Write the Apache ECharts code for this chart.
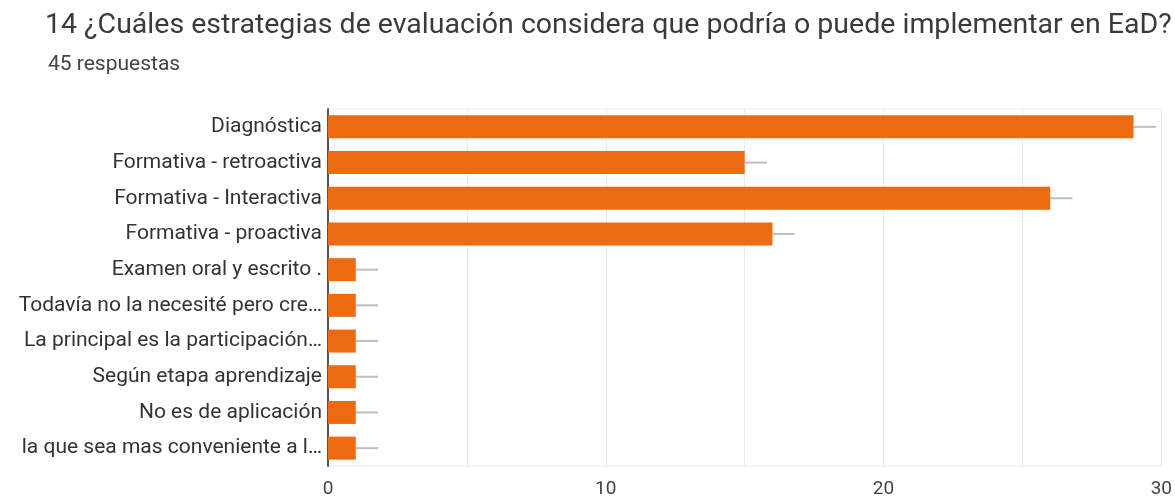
<!DOCTYPE html>
<html>
<head>
<meta charset="utf-8">
<script src="https://cdn.jsdelivr.net/npm/echarts@6/dist/echarts.min.js"></script>
<style>
  html, body { margin: 0; padding: 0; background: #fff; }
  #chart { width: 1175px; height: 499px; }
</style>
</head>
<body>
<div id="chart"></div>
<script>
// Survey answers: evaluation strategies
const categories = [
  'Diagnóstica',
  'Formativa - retroactiva',
  'Formativa - Interactiva',
  'Formativa - proactiva',
  'Examen oral y escrito .',
  'Todavía no la necesité pero cre…',
  'La principal es la participación…',
  'Según etapa aprendizaje',
  'No es de aplicación',
  'la que sea mas conveniente a l…'
];
const counts = [29, 15, 26, 16, 1, 1, 1, 1, 1, 1];
// right end of the grey whisker drawn after each bar
const whiskerEnds = [29.8, 15.8, 26.8, 16.8, 1.8, 1.8, 1.8, 1.8, 1.8, 1.8];
const xTicks = [0, 10, 20, 30];

const chart = echarts.init(document.getElementById('chart'));

chart.setOption({
  animation: false,
  title: [
    {
      text: '14 ¿Cuáles estrategias de evaluación considera que podría o puede implementar en EaD?',
      left: 40, top: 6,
      textStyle: { fontFamily: 'Roboto', fontSize: 28.5, fontWeight: 'normal', color: '#3a3a3a' }
    },
    {
      text: '45 respuestas',
      left: 43, top: 49,
      textStyle: { fontFamily: 'Roboto', fontSize: 21, fontWeight: 'normal', color: '#444' }
    }
  ],
  grid: {
    left: 328, right: 13, top: 109, bottom: 32,
    show: true, borderColor: '#ebebeb', borderWidth: 1
  },
  xAxis: {
    type: 'value', min: 0, max: 30, interval: 5,
    axisLine: { show: false },
    axisTick: { show: false },
    splitLine: { lineStyle: { color: '#ebebeb', width: 1 } },
    axisLabel: {
      fontFamily: 'Roboto', fontSize: 19, color: '#444', margin: 14,
      formatter: v => (xTicks.indexOf(v) >= 0 ? String(v) : '')
    }
  },
  yAxis: {
    type: 'category', data: categories, inverse: true,
    axisLine: { show: true, lineStyle: { color: '#555', width: 2 } },
    axisTick: { show: false },
    axisLabel: { fontFamily: 'Roboto', fontSize: 21, color: '#333', margin: 6 }
  },
  series: [
    {
      type: 'bar',
      data: counts,
      barWidth: 23,
      itemStyle: { color: '#ec6b12' },
      z: 3
    },
    {
      type: 'custom',
      data: counts.map((c, i) => [c, whiskerEnds[i], i]),
      encode: { x: [0, 1], y: 2 },
      z: 2,
      renderItem: (params, api) => {
        const a = api.coord([api.value(0), api.value(2)]);
        const b = api.coord([api.value(1), api.value(2)]);
        return {
          type: 'line',
          shape: { x1: a[0], y1: a[1], x2: b[0], y2: b[1] },
          style: { stroke: '#bdbdbd', lineWidth: 2 }
        };
      }
    }
  ]
});
</script>
</body>
</html>
